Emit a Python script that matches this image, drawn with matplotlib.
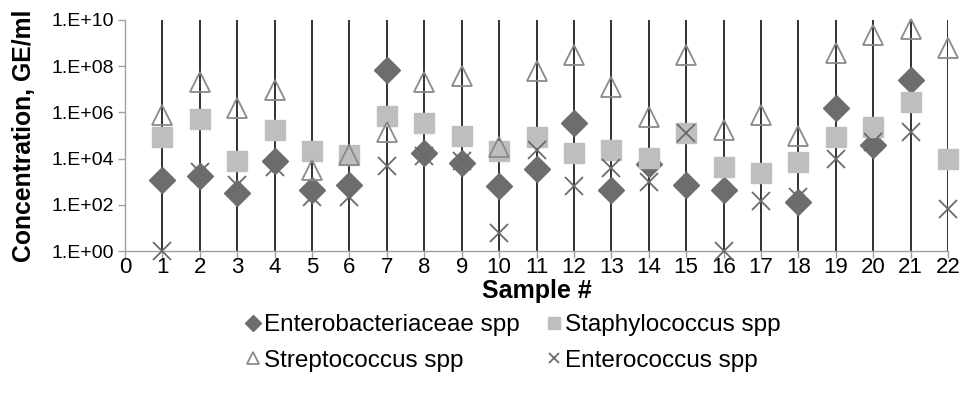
import numpy as np
import matplotlib
matplotlib.use("Agg")
import matplotlib.pyplot as plt
from matplotlib.ticker import FixedLocator

plt.rcParams['font.family'] = ['Liberation Sans', 'DejaVu Sans']

samples = np.arange(1, 23)
nan = np.nan
# GE/ml
enterobacteriaceae = [1.2e3, 1.7e3, 3.3e2, 7.9e3, 4.4e2, 7.2e2, 6.9e7, 1.8e4, 6.6e3, 6.5e2, 3.5e3,
                      3.5e5, 4.4e2, 5.6e3, 7.2e2, 4.4e2, nan, 1.3e2, 1.5e6, 3.9e4, 2.5e7, nan]
staphylococcus = [8.9e4, 5.0e5, 7.9e3, 1.7e5, 2.2e4, 1.4e4, 6.9e5, 3.5e5, 1.0e5, 2.2e4, 8.9e4,
                  1.7e4, 2.3e4, 1.1e4, 1.3e5, 4.5e3, 2.3e3, 7.4e3, 8.9e4, 2.4e5, 2.9e6, 9.3e3]
streptococcus = [7.8e5, 2.1e7, 1.5e6, 9.3e6, 3.2e3, 1.4e4, 1.4e5, 2.1e7, 3.8e7, 3.2e4, 6.5e7,
                 3.0e8, 1.2e7, 6.5e5, 3.0e8, 1.7e5, 7.8e5, 1.0e5, 3.6e8, 2.2e9, 4.0e9, 5.9e8]
enterococcus = [1, 2.7e3, 7.2e2, 4.5e3, 2.2e2, 2.2e2, 5.0e3, 1.3e4, 7.9e3, 5.9, 2.3e4,
                6.8e2, 3.8e3, 1.0e3, 1.3e5, 1, 1.5e2, 2.2e2, 9.3e3, 5.4e4, 1.4e5, 65]

ytick_vals = [1e0, 1e2, 1e4, 1e6, 1e8, 1e10]
ytick_labels = ['1.E+00', '1.E+02', '1.E+04', '1.E+06', '1.E+08', '1.E+10']

fig = plt.figure(figsize=(9.74, 4.03), dpi=100)
ax = fig.add_axes([125 / 974, 152 / 403, 823 / 974, 231 / 403])

ax.vlines(samples, 1, 1e10, color='#222222', lw=1.3, zorder=1)

h1, = ax.plot(samples, enterobacteriaceae, ls='none', marker='D', ms=13, color='#6d6d6d',
              mec='#6d6d6d', label='Enterobacteriaceae spp', clip_on=False, zorder=2)
h2, = ax.plot(samples, staphylococcus, ls='none', marker='s', ms=14.5, color='#bebebe',
              mec='#bebebe', label='Staphylococcus spp', clip_on=False, zorder=3)
h3, = ax.plot(samples, streptococcus, ls='none', marker='^', ms=14, mfc='none', mec='#8a8a8a',
              mew=1.3, label='Streptococcus spp', clip_on=False, zorder=4)
h4, = ax.plot(samples, enterococcus, ls='none', marker='x', ms=13, mec='#6a6a6a', mew=1.3,
              label='Enterococcus spp', clip_on=False, zorder=5)

ax.set_yscale('log')
ax.set_ylim(1, 1e10)
ax.set_xlim(0, 22)
ax.yaxis.set_major_locator(FixedLocator(ytick_vals))
ax.yaxis.set_minor_locator(FixedLocator([]))
ax.set_yticklabels(ytick_labels)
ax.set_xticks(np.arange(0, 23))

for s in ['top', 'right']:
    ax.spines[s].set_visible(False)
for s in ['left', 'bottom']:
    ax.spines[s].set_color('#a0a0a0')
    ax.spines[s].set_linewidth(1.0)
ax.tick_params(axis='both', direction='out', length=5, color='#a0a0a0', width=1.0)
ax.tick_params(axis='y', labelsize=14, pad=3)
ax.tick_params(axis='x', labelsize=16, pad=-1)

ax.set_xlabel('Sample #', fontsize=18, fontweight='bold', labelpad=1)
ax.set_ylabel('Concentration, GE/ml', fontsize=17.8, fontweight='bold', labelpad=11)

# legend fills row-wise in the reference, so reorder for matplotlib's column fill
fig.legend([h1, h3, h2, h4], [h.get_label() for h in (h1, h3, h2, h4)],
           loc='center', bbox_to_anchor=(512 / 974, 1 - 343 / 403), ncol=2,
           frameon=False, fontsize=17.5, handletextpad=0.05, columnspacing=1.0,
           handlelength=0.8, markerscale=0.6, labelspacing=0.55, borderpad=0.2)

fig.savefig('out.png', dpi=100)
